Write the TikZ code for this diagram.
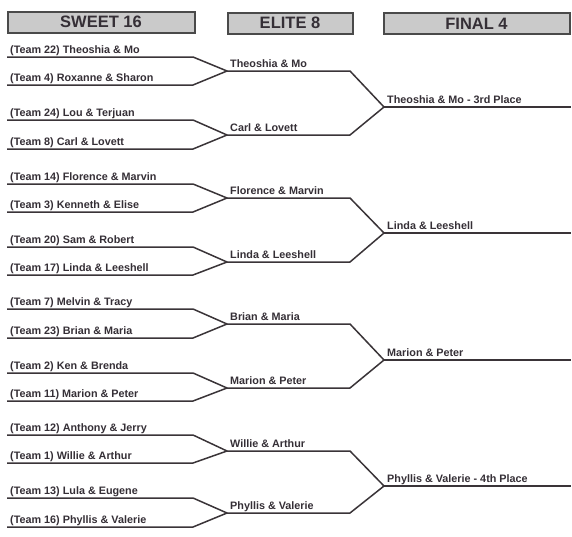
\documentclass[tikz,border=0pt]{standalone}
\usepackage{fontspec}
\setmainfont{Liberation Sans}
\definecolor{linec}{HTML}{3A3438}
\definecolor{txtc}{HTML}{352F36}
\definecolor{hdrf}{HTML}{CACACA}
\definecolor{hdrb}{HTML}{4A4A4A}
\begin{document}
\begin{tikzpicture}[x=1pt,y=-1pt,
  bline/.style={draw=linec,line width=1.5pt,line join=round},
  team/.style={anchor=base west,inner sep=0pt,font=\bfseries\fontsize{10.8}{12}\selectfont,text=txtc},
  hdr/.style={draw=hdrb,line width=2pt,fill=hdrf,font=\bfseries\fontsize{16.5}{18}\selectfont,text=txtc,inner sep=0pt,minimum height=21pt}]
\useasboundingbox[fill=white] (0,0) rectangle (572,536);
% headers
\node[hdr,minimum width=187pt] (h1) at (101,22) {SWEET 16};
\node[hdr,minimum width=125pt] (h2) at (290,23) {ELITE 8};
\node[hdr,minimum width=186pt] (h3) at (476.5,23.5) {FINAL 4};
% round 1
\foreach \i/\y/\t in {
  1/57/{(Team 22) Theoshia \& Mo},
  2/85/{(Team 4) Roxanne \& Sharon},
  3/120/{(Team 24) Lou \& Terjuan},
  4/149/{(Team 8) Carl \& Lovett},
  5/184/{(Team 14) Florence \& Marvin},
  6/212/{(Team 3) Kenneth \& Elise},
  7/247/{(Team 20) Sam \& Robert},
  8/275/{(Team 17) Linda \& Leeshell},
  9/309/{(Team 7) Melvin \& Tracy},
  10/338/{(Team 23) Brian \& Maria},
  11/373/{(Team 2) Ken \& Brenda},
  12/401/{(Team 11) Marion \& Peter},
  13/435/{(Team 12) Anthony \& Jerry},
  14/463/{(Team 1) Willie \& Arthur},
  15/498/{(Team 13) Lula \& Eugene},
  16/527/{(Team 16) Phyllis \& Valerie}}{
  \coordinate (a\i) at (7,\y);
  \coordinate (b\i) at (193,\y);
  \node[team] (t\i) at (10,\y-4) {\t};
}
% elite 8
\foreach \j/\y/\t in {
  1/71/{Theoshia \& Mo},
  2/135/{Carl \& Lovett},
  3/198/{Florence \& Marvin},
  4/262/{Linda \& Leeshell},
  5/324/{Brian \& Maria},
  6/388/{Marion \& Peter},
  7/451/{Willie \& Arthur},
  8/513/{Phyllis \& Valerie}}{
  \coordinate (c\j) at (227,\y);
  \coordinate (d\j) at (350,\y);
  \node[team] (e\j) at (230,\y-4) {\t};
}
% final 4
\foreach \k/\y/\t in {
  1/107/{Theoshia \& Mo - 3rd Place},
  2/233/{Linda \& Leeshell},
  3/360/{Marion \& Peter},
  4/486/{Phyllis \& Valerie - 4th Place}}{
  \coordinate (g\k) at (384,\y);
  \coordinate (z\k) at (571,\y);
  \node[team] (f\k) at (387,\y-4) {\t};
}
% connectors round 1 -> elite
\foreach \j in {1,...,8}{
  \pgfmathtruncatemacro{\p}{2*\j-1}
  \pgfmathtruncatemacro{\q}{2*\j}
  \draw[bline] (a\p) -- (b\p) -- (c\j) -- (b\q) -- (a\q);
}
% elite -> final
\foreach \k in {1,...,4}{
  \pgfmathtruncatemacro{\p}{2*\k-1}
  \pgfmathtruncatemacro{\q}{2*\k}
  \draw[bline] (c\p) -- (d\p) -- (g\k) -- (d\q) -- (c\q);
  \draw[bline] (g\k) -- (z\k);
}
\end{tikzpicture}
\end{document}
